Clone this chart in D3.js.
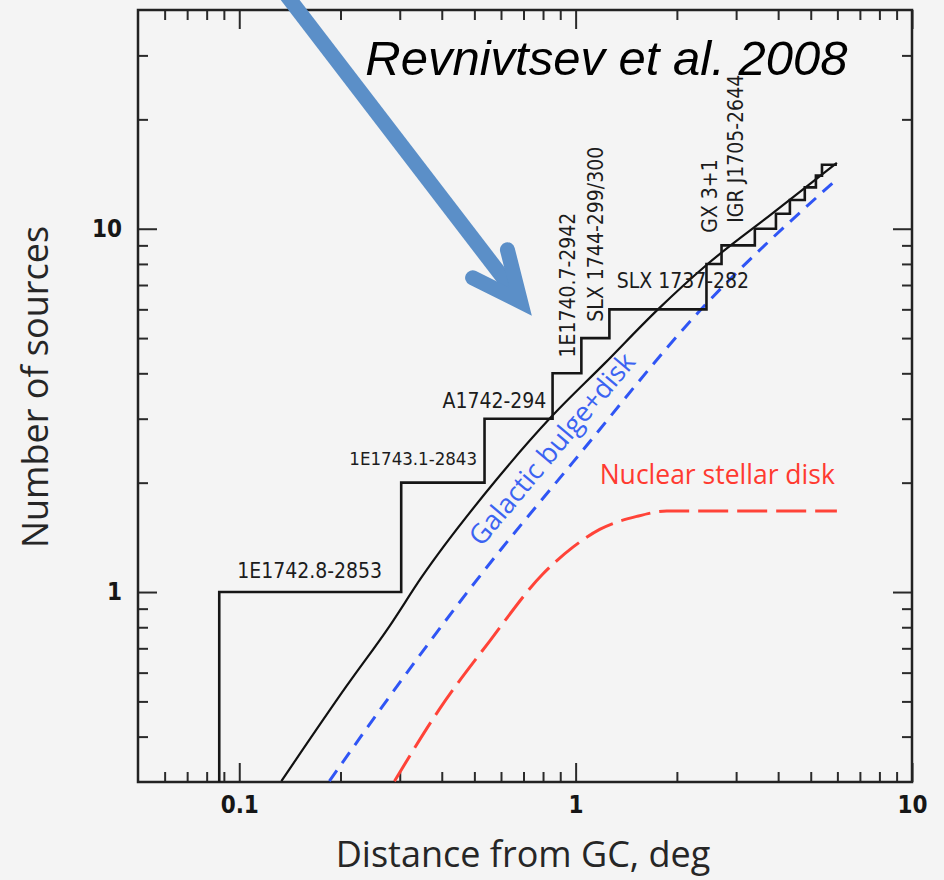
<!DOCTYPE html>
<html>
<head>
<meta charset="utf-8">
<script src="https://cdn.jsdelivr.net/npm/d3@7"></script>
<style>
  html, body { margin: 0; padding: 0; background: #f4f4f4; }
  svg { display: block; }
</style>
</head>
<body>
<div id="chart"></div>
<script>

// ---------------- data ----------------

// cumulative number of detected sources vs distance from GC (staircase)
const stepDist  = [0.0872, 0.303, 0.536, 0.854, 1.04, 1.26, 2.449, 2.449, 2.715, 3.41, 3.94, 4.335, 4.80, 5.18, 5.40];
const stepCount = [1, 2, 3, 4, 5, 6, 7, 8, 9, 10, 11, 12, 13, 14, 15];
const stepEnd   = 5.98;

// model: total (solid black)
const totalDist = [0.1334, 0.2083, 0.2795, 0.348, 0.582, 0.848, 1.22, 1.754, 2.454, 3.83, 5.98];
const totalN    = [0.3016, 0.5505, 0.8048, 1.097, 2.04, 3.04, 4.26, 5.99, 7.96, 10.99, 15.19];

// model: galactic bulge + disk (blue dashed)
const bulgeDist = [0.1853, 0.2665, 0.5288, 0.9796, 2.339, 5.90];
const bulgeN    = [0.3016, 0.4845, 1.131, 2.271, 5.945, 13.54];

// model: nuclear stellar disk (red long dashed)
const nsdDist = [0.2893, 0.3937, 0.5546, 0.7975, 0.9796, 1.179, 1.519, 1.866, 5.98];
const nsdN    = [0.3016, 0.476, 0.7317, 1.119, 1.327, 1.487, 1.615, 1.67, 1.67];

// source names along the staircase
const srcNames = ["1E1742.8-2853", "1E1743.1-2843", "A1742-294", "1E1740.7-2942",
                  "SLX 1744-299/300", "SLX 1737-282", "GX 3+1", "IGR J1705-2644"];
const srcX     = [0.0986, 0.2125, 0.402, 0.993, 1.203, 1.325, 2.63, 3.14];
const srcY     = [1.09, 2.23, 3.22, 4.42, 5.55, 6.88, 9.75, 10.39];
const srcVertical = [false, false, false, true, true, false, true, true];
const srcSize  = [21, 18.5, 21, 21, 21, 21, 21, 21];

// axes
const xDomain = [0.05, 10];
const yDomain = [0.3, 40];
const xMajor = [0.1, 1, 10];
const xTickLabels = ["0.1", "1", "10"];
const xMinor = [0.06, 0.07, 0.08, 0.09, 0.2, 0.3, 0.4, 0.5, 0.6, 0.7, 0.8, 0.9, 2, 3, 4, 5, 6, 7, 8, 9];
const yMajor = [1, 10];
const yTickLabels = ["1", "10"];
const yMinor = [0.4, 0.5, 0.6, 0.7, 0.8, 0.9, 2, 3, 4, 5, 6, 7, 8, 9, 20, 30];

// annotation anchors (data units)
const titleText = "Revnivtsev et al. 2008";
const titleAt = [0.237, 26.5];
const arrowShaft = [[0.138, 44], [0.681, 6.4]];
const arrowHead  = [[0.494, 7.33], [0.686, 6.30], [0.627, 8.75]];
const bulgeLabelAt = [0.525, 1.327];
const nsdLabelAt = [1.179, 1.98];

// ---------------- layout ----------------

const W = 944, H = 880;
const margin = {left: 138, top: 10, right: 32, bottom: 98};
const pw = W - margin.left - margin.right;
const ph = H - margin.top - margin.bottom;

const majorLen = 19, minorLen = 10;
const tickColor = "#2a2a2a";

const svg = d3.select("#chart").append("svg")
    .attr("width", W).attr("height", H)
    .style("background", "#f4f4f4");

const x = d3.scaleLog().domain(xDomain).range([0, pw]);
const y = d3.scaleLog().domain(yDomain).range([ph, 0]);

const g = svg.append("g").attr("transform", `translate(${margin.left},${margin.top})`);

svg.append("defs").append("clipPath").attr("id", "plotclip")
    .append("rect").attr("width", pw).attr("height", ph);

// ---------------- ticks (inward, all four sides) ----------------

function styleAxis(sel) {
    sel.select(".domain").remove();
    sel.selectAll(".tick line").attr("stroke", tickColor).attr("stroke-width", 2);
    sel.selectAll(".tick text")
        .attr("fill", "#161616")
        .style("font-family", "'DejaVu Sans Condensed', 'DejaVu Sans', sans-serif")
        .style("font-stretch", "condensed")
        .style("font-weight", "bold")
        .style("font-size", "24px");
}

g.append("g").attr("transform", `translate(0,${ph})`)
    .call(d3.axisBottom(x).tickValues(xMajor).tickSizeInner(-majorLen).tickSizeOuter(0)
        .tickPadding(14).tickFormat((d, i) => xTickLabels[i]))
    .call(styleAxis);
g.append("g").attr("transform", `translate(0,${ph})`)
    .call(d3.axisBottom(x).tickValues(xMinor).tickSizeInner(-minorLen).tickSizeOuter(0).tickFormat(""))
    .call(styleAxis);
g.append("g")
    .call(d3.axisTop(x).tickValues(xMajor).tickSizeInner(-majorLen).tickSizeOuter(0).tickFormat(""))
    .call(styleAxis);
g.append("g")
    .call(d3.axisTop(x).tickValues(xMinor).tickSizeInner(-minorLen).tickSizeOuter(0).tickFormat(""))
    .call(styleAxis);

g.append("g")
    .call(d3.axisLeft(y).tickValues(yMajor).tickSizeInner(-majorLen).tickSizeOuter(0)
        .tickPadding(16).tickFormat((d, i) => yTickLabels[i]))
    .call(styleAxis);
g.append("g")
    .call(d3.axisLeft(y).tickValues(yMinor).tickSizeInner(-minorLen).tickSizeOuter(0).tickFormat(""))
    .call(styleAxis);
g.append("g").attr("transform", `translate(${pw},0)`)
    .call(d3.axisRight(y).tickValues(yMajor).tickSizeInner(-majorLen).tickSizeOuter(0).tickFormat(""))
    .call(styleAxis);
g.append("g").attr("transform", `translate(${pw},0)`)
    .call(d3.axisRight(y).tickValues(yMinor).tickSizeInner(-minorLen).tickSizeOuter(0).tickFormat(""))
    .call(styleAxis);

// frame
g.append("rect").attr("width", pw).attr("height", ph)
    .attr("fill", "none").attr("stroke", "#222").attr("stroke-width", 2.5);

// ---------------- curves ----------------

const plot = g.append("g").attr("clip-path", "url(#plotclip)");

const smooth = d3.line().x(d => x(d[0])).y(d => y(d[1])).curve(d3.curveMonotoneX);
const zip = (a, b) => a.map((v, i) => [v, b[i]]);

plot.append("path").datum(zip(nsdDist, nsdN))
    .attr("d", smooth).attr("fill", "none")
    .attr("stroke", "#ff4338").attr("stroke-width", 3)
    .attr("stroke-dasharray", "30,9");

plot.append("path").datum(zip(bulgeDist, bulgeN))
    .attr("d", smooth).attr("fill", "none")
    .attr("stroke", "#2f55f5").attr("stroke-width", 3)
    .attr("stroke-dasharray", "13,9");

plot.append("path").datum(zip(totalDist, totalN))
    .attr("d", smooth).attr("fill", "none")
    .attr("stroke", "#111").attr("stroke-width", 2.2);

// staircase
const stepPts = [[stepDist[0], yDomain[0]]]
    .concat(zip(stepDist, stepCount))
    .concat([[stepEnd, stepCount[stepCount.length - 1]]]);
const stair = d3.line().x(d => x(d[0])).y(d => y(d[1])).curve(d3.curveStepAfter);
plot.append("path").datum(stepPts)
    .attr("d", stair).attr("fill", "none")
    .attr("stroke", "#161616").attr("stroke-width", 2.6);

// ---------------- labels ----------------

const srcFont = "'DejaVu Sans Condensed', 'DejaVu Sans', sans-serif";
const humanist = "'Open Sans', 'Noto Sans', sans-serif";

srcNames.forEach((name, i) => {
    const px = x(srcX[i]), py = y(srcY[i]);
    g.append("text")
        .attr("transform", srcVertical[i] ? `translate(${px},${py}) rotate(-90)` : `translate(${px},${py})`)
        .attr("fill", "#1c1c1c")
        .style("font-family", srcFont)
        .style("font-stretch", "condensed")
        .style("font-size", srcSize[i] + "px")
        .text(name);
});

g.append("text")
    .attr("transform", `translate(${x(bulgeLabelAt[0])},${y(bulgeLabelAt[1])}) rotate(-50)`)
    .attr("fill", "#3b63f2")
    .style("font-family", humanist)
    .style("font-size", "27px")
    .text("Galactic bulge+disk");

g.append("text")
    .attr("x", x(nsdLabelAt[0])).attr("y", y(nsdLabelAt[1]))
    .attr("fill", "#ff3a30")
    .style("font-family", humanist)
    .style("font-size", "26.5px")
    .text("Nuclear stellar disk");

// axis titles
svg.append("text")
    .attr("x", 523).attr("y", 867)
    .attr("text-anchor", "middle")
    .attr("fill", "#262626")
    .style("font-family", humanist)
    .style("font-size", "36px")
    .text("Distance from GC, deg");

svg.append("text")
    .attr("transform", "translate(48,387) rotate(-90)")
    .attr("text-anchor", "middle")
    .attr("fill", "#262626")
    .style("font-family", humanist)
    .style("font-size", "36px")
    .text("Number of sources");

// ---------------- overlay: citation + arrow ----------------

svg.append("text")
    .attr("x", margin.left + x(titleAt[0])).attr("y", margin.top + y(titleAt[1]))
    .attr("fill", "#000")
    .style("font-family", "'Liberation Sans', Arial, sans-serif")
    .style("font-style", "italic")
    .style("font-size", "49px")
    .text(titleText);

const arrowLine = d3.line().x(d => x(d[0])).y(d => y(d[1]));
const arrow = g.append("g")
    .attr("fill", "none").attr("stroke", "#5b8fc8").attr("stroke-width", 15);
arrow.append("path").datum(arrowShaft).attr("d", arrowLine).attr("stroke-linecap", "butt");
arrow.append("path").datum(arrowHead).attr("d", arrowLine)
    .attr("stroke-linecap", "round").attr("stroke-linejoin", "miter").attr("stroke-miterlimit", 10);

</script>
</body>
</html>
